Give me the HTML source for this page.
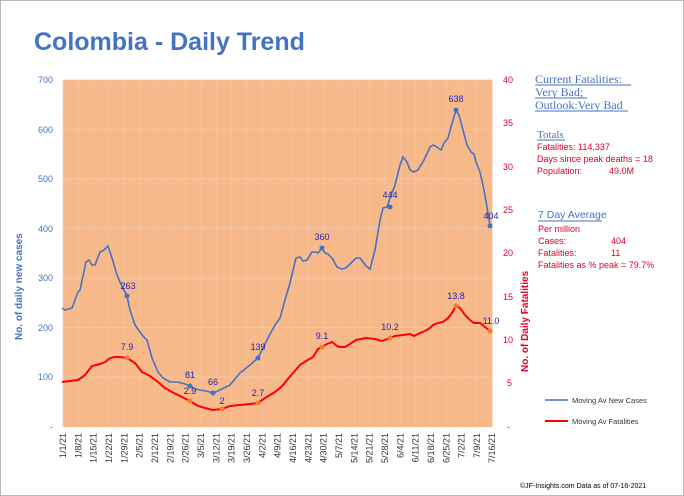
<!DOCTYPE html>
<html><head><meta charset="utf-8"><style>
body{margin:0;background:#fff;}
svg{display:block;font-family:"Liberation Sans",sans-serif;}
</style></head><body>
<svg width="684" height="496" viewBox="0 0 684 496">
<rect x="0.5" y="0.5" width="683" height="495" fill="#fff" stroke="#bbb"/>
<text x="34" y="50" font-size="25" font-weight="bold" fill="#4472C4">Colombia - Daily Trend</text>
<rect x="63" y="80" width="429" height="347" fill="#F8B98A"/>
<g stroke="#e6cdb8" stroke-width="0.8">
<line x1="63" x2="492" y1="80" y2="80"/><line x1="63" x2="492" y1="129.5" y2="129.5"/><line x1="63" x2="492" y1="179" y2="179"/><line x1="63" x2="492" y1="228.5" y2="228.5"/><line x1="63" x2="492" y1="278" y2="278"/><line x1="63" x2="492" y1="327.5" y2="327.5"/><line x1="63" x2="492" y1="377" y2="377"/>
</g>
<g id="vg" stroke="#f2c8a8" stroke-width="0.6"></g>
<g font-size="9" fill="#4472C4" text-anchor="end">
<text x="53" y="83">700</text><text x="53" y="133">600</text><text x="53" y="182">500</text><text x="53" y="232">400</text><text x="53" y="281">300</text><text x="53" y="331">200</text><text x="53" y="380">100</text><text x="53" y="430">-</text>
</g>
<g font-size="9" fill="#E0002A">
<text x="503" y="83">40</text><text x="503" y="126">35</text><text x="503" y="170">30</text><text x="503" y="213">25</text><text x="503" y="256">20</text><text x="503" y="300">15</text><text x="503" y="343">10</text><text x="507" y="386">5</text><text x="507" y="430">-</text>
</g>
<text transform="translate(22,340) rotate(-90)" font-size="10" font-weight="bold" fill="#4472C4">No. of daily new  cases</text>
<text transform="translate(528,372) rotate(-90)" font-size="10" font-weight="bold" fill="#E0002A">No. of Daily Fatalities</text>
<g id="xl" font-size="9" fill="#333"></g>
<polyline fill="none" stroke="#4472C4" stroke-width="1.6" points="62,308 65,310 72,308 78,292 80,290 86,262 89,260 92,265 95,265 100,252 104,250 108,246 112,258 117,275 120,282 127,296 130,310 135,325 142,335 147,340 152,358 158,372 163,378 170,382 178,382 185,384 190,386 195,389 200,390 206,391 213,393 220,390 230,385 240,373 250,365 258,358 262,350 268,338 275,325 280,318 285,300 290,283 296,258 300,257 303,261 307,260 312,252 316,252 318,253 322,248 325,253 328,254 332,258 337,267 342,269 346,268 352,262 356,258 360,258 363,262 366,266 370,269 375,250 380,220 383,208 387,207 390,198 395,185 400,165 403,157 407,162 410,170 414,172 418,170 424,160 430,147 433,145 437,147 441,150 444,143 448,138 451,127 456,110 459,115 463,130 467,145 471,152 474,154 476,162 480,172 484,190 487,207 490,226"/>
<polyline fill="none" stroke="#FF0000" stroke-width="2" points="62,382 70,381 78,380 85,375 92,366 100,364 105,362 110,358 115,357 120,357 127,358 135,363 142,372 150,376 158,382 165,388 172,392 180,396 190,401 198,406 205,408 213,410 222,409 230,406 240,405 250,404 258,403 265,398 275,392 280,388 284,384 287,380 293,373 300,365 306,361 313,357 318,349 322,347 327,344 332,342 337,346 340,347 345,347 350,344 356,340 366,338 375,339 382,341 390,338 395,336 403,335 410,334 414,336 420,333 425,331 430,328 433,325 438,323 443,322 448,318 452,313 456,306 460,308 465,315 470,320 474,323 480,323 485,327 490,331"/>
<g fill="#4472C4"><circle cx="127" cy="296" r="2.5"/><circle cx="190" cy="386" r="2.5"/><circle cx="213" cy="393" r="2.5"/><circle cx="258" cy="358" r="2.5"/><circle cx="322" cy="248" r="2.5"/><circle cx="390" cy="207" r="2.5"/><circle cx="456" cy="110" r="2.5"/><circle cx="490" cy="226" r="2.5"/></g>
<g fill="#ED7D31"><circle cx="127" cy="358" r="2.5"/><circle cx="190" cy="401" r="2.5"/><circle cx="222" cy="409" r="2.5"/><circle cx="258" cy="403" r="2.5"/><circle cx="322" cy="347" r="2.5"/><circle cx="390" cy="338" r="2.5"/><circle cx="456" cy="306" r="2.5"/><circle cx="490" cy="331" r="2.5"/></g>
<g font-size="9" fill="#2020C0" text-anchor="middle">
<text x="128" y="289">263</text><text x="190" y="378">81</text><text x="213" y="385">66</text><text x="258" y="350">139</text><text x="322" y="240">360</text><text x="390" y="198">444</text><text x="456" y="102">638</text><text x="491" y="219">404</text>
<text x="127" y="350">7.9</text><text x="190" y="394">2.9</text><text x="222" y="404">2</text><text x="258" y="396">2.7</text><text x="322" y="339">9.1</text><text x="390" y="330">10.2</text><text x="456" y="299">13.8</text><text x="491" y="324">11.0</text>
</g>
<g font-family="Liberation Serif,serif" font-size="12" fill="#4472C4">
<text x="535" y="83">Current Fatalities:</text><text x="535" y="96">Very Bad;</text><text x="535" y="109">Outlook:Very Bad</text>
</g>
<line x1="535" x2="631" y1="85" y2="85" stroke="#4472C4"/><line x1="535" x2="587" y1="98" y2="98" stroke="#4472C4"/><line x1="535" x2="628" y1="111" y2="111" stroke="#4472C4"/>
<text x="537" y="138" font-family="Liberation Serif,serif" font-size="11" fill="#4472C4">Totals</text><line x1="537" x2="565" y1="140" y2="140" stroke="#4472C4"/>
<g font-size="9" fill="#E0002A">
<text x="537" y="150">Fatalities: 114,337</text><text x="537" y="162">Days since peak deaths = 18</text><text x="537" y="174">Population:</text><text x="609" y="174">49.0M</text>
<text x="538" y="232">Per million</text><text x="538" y="244">Cases:</text><text x="611" y="244">404</text><text x="538" y="256">Fatalities:</text><text x="611" y="256">11</text><text x="538" y="268">Fatalities as % peak = 79.7%</text>
</g>
<text x="538" y="218" font-size="10.5" fill="#4472C4">7 Day Average</text><line x1="538" x2="602" y1="221" y2="221" stroke="#4472C4"/>
<line x1="545" x2="568" y1="400" y2="400" stroke="#4472C4" stroke-width="1.6"/>
<text x="572" y="403" font-size="7.5" fill="#333">Moving Av New Cases</text>
<line x1="545" x2="568" y1="421" y2="421" stroke="#FF0000" stroke-width="2"/>
<text x="572" y="424" font-size="7.5" fill="#333">Moving Av Fatalities</text>
<text x="520" y="488" font-size="7" fill="#000">©JF-Insights.com  Data as of 07-16-2021</text>
</svg>
<script>
var labels=["1/1/21","1/8/21","1/15/21","1/22/21","1/29/21","2/5/21","2/12/21","2/19/21","2/26/21","3/5/21","3/12/21","3/19/21","3/26/21","4/2/21","4/9/21","4/16/21","4/23/21","4/30/21","5/7/21","5/14/21","5/21/21","5/28/21","6/4/21","6/11/21","6/18/21","6/25/21","7/2/21","7/9/21","7/16/21"];
var ns="http://www.w3.org/2000/svg",xl=document.getElementById("xl"),vg=document.getElementById("vg");
labels.forEach(function(l,i){var x=63+i*7*2.19;var t=document.createElementNS(ns,"text");t.setAttribute("transform","translate("+(x+3)+",433) rotate(-90)");t.setAttribute("text-anchor","end");t.textContent=l;xl.appendChild(t);
var g=document.createElementNS(ns,"line");g.setAttribute("x1",x);g.setAttribute("x2",x);g.setAttribute("y1",80);g.setAttribute("y2",427);vg.appendChild(g);});
</script>
</body></html>
